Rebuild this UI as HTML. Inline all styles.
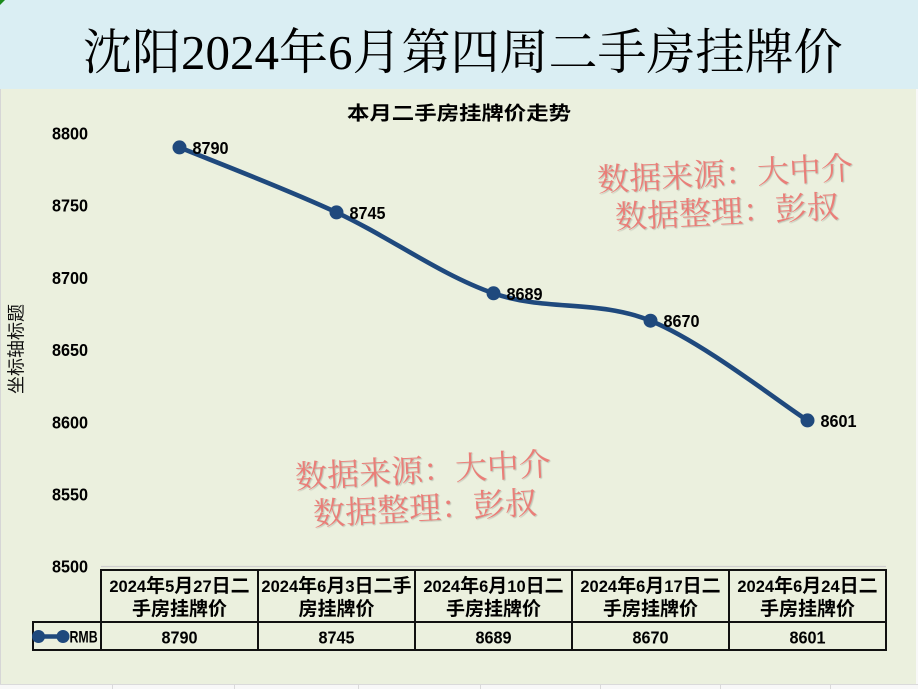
<!DOCTYPE html>
<html>
<head>
<meta charset="utf-8">
<style>
html,body{margin:0;padding:0;background:#fff;}
body{width:918px;height:689px;overflow:hidden;}
svg{display:block;}
</style>
</head>
<body>
<svg width="918" height="689" viewBox="0 0 918 689" xmlns="http://www.w3.org/2000/svg">
  <!-- backgrounds -->
  <rect x="0" y="0" width="918" height="689" fill="#f8f8f8"/>
  <rect x="0" y="0" width="918" height="89" fill="#daeef3"/>
  <polygon points="0,0 5,0 0,5" fill="#1a8a1a"/>
  <rect x="0" y="89" width="916" height="595" fill="#ebf0de"/>
  <rect x="0" y="89" width="1" height="595" fill="#d6d6d6"/>
  <!-- bottom sheet grid remnants -->
  <g stroke="#dadada" stroke-width="1">
    <line x1="112.5" y1="684" x2="112.5" y2="689"/>
    <line x1="234.5" y1="684" x2="234.5" y2="689"/>
    <line x1="358.5" y1="684" x2="358.5" y2="689"/>
    <line x1="480.5" y1="684" x2="480.5" y2="689"/>
    <line x1="600.5" y1="684" x2="600.5" y2="689"/>
    <line x1="720.5" y1="684" x2="720.5" y2="689"/>
    <line x1="830.5" y1="684" x2="830.5" y2="689"/>
    <line x1="0" y1="684.5" x2="918" y2="684.5"/>
  </g>

  <!-- main title -->
  <text x="83" y="69" font-family="'Liberation Serif','Noto Serif CJK SC',serif" font-size="49" fill="#000">沈阳2024年6月第四周二手房挂牌价</text>

  <!-- chart title -->
  <text transform="translate(459,119.5) scale(1.18,1)" x="0" y="0" text-anchor="middle" font-family="'Liberation Sans','Noto Sans CJK SC',sans-serif" font-size="19" font-weight="bold" fill="#000">本月二手房挂牌价走势</text>

  <!-- y axis title -->
  <text transform="translate(0,349) rotate(-90)" x="0" y="22.3" text-anchor="middle" font-family="'Liberation Sans','Noto Sans CJK SC',sans-serif" font-size="18" fill="#111">坐标轴标题</text>

  <!-- y axis labels -->
  <g font-family="'Liberation Sans',sans-serif" font-size="18" font-weight="bold" fill="#000" text-anchor="end">
    <text transform="translate(88,139.5) scale(0.9,1)">8800</text>
    <text transform="translate(88,211.7) scale(0.9,1)">8750</text>
    <text transform="translate(88,283.9) scale(0.9,1)">8700</text>
    <text transform="translate(88,356.1) scale(0.9,1)">8650</text>
    <text transform="translate(88,428.3) scale(0.9,1)">8600</text>
    <text transform="translate(88,500.5) scale(0.9,1)">8550</text>
    <text transform="translate(88,572.7) scale(0.9,1)">8500</text>
  </g>

  <!-- baseline gridline -->
  <line x1="101" y1="566.5" x2="886" y2="566.5" stroke="#cfcfcf" stroke-width="1.2"/>

  <!-- watermarks -->
  <g font-family="'Liberation Serif','Noto Serif CJK SC',serif" font-size="32" fill="#ea7e78" text-anchor="middle" style="text-shadow:1px 1px 1px rgba(0,0,0,0.18)">
    <g transform="translate(726,192) rotate(-2.8)">
      <text x="0" y="-7">数据来源：大中介</text>
      <text x="0" y="31">数据整理：彭叔</text>
    </g>
    <g transform="translate(424,488.5) rotate(-3)">
      <text x="0" y="-7">数据来源：大中介</text>
      <text x="0" y="31">数据整理：彭叔</text>
    </g>
  </g>

  <!-- series line -->
  <path d="M179.5,147.4 C205.7,158.2 284.2,188.1 336.5,212.4 C388.8,236.7 441.2,275.3 493.5,293.3 C545.8,311.4 598.2,299.5 650.5,320.7 C702.8,341.9 781.3,403.8 807.5,420.4" fill="none" stroke="#1f497d" stroke-width="4.6" stroke-linecap="round" stroke-linejoin="round"/>
  <g fill="#1f497d">
    <circle cx="179.5" cy="147.4" r="7"/>
    <circle cx="336.5" cy="212.4" r="7"/>
    <circle cx="493.5" cy="293.3" r="7"/>
    <circle cx="650.5" cy="320.7" r="7"/>
    <circle cx="807.5" cy="420.4" r="7"/>
  </g>

  <!-- data labels -->
  <g font-family="'Liberation Sans',sans-serif" font-size="18" font-weight="bold" fill="#000">
    <text transform="translate(192.5,153.9) scale(0.9,1)">8790</text>
    <text transform="translate(349.5,218.9) scale(0.9,1)">8745</text>
    <text transform="translate(506.5,299.8) scale(0.9,1)">8689</text>
    <text transform="translate(663.5,327.2) scale(0.9,1)">8670</text>
    <text transform="translate(820.5,426.9) scale(0.9,1)">8601</text>
  </g>

  <!-- data table -->
  <g stroke="#111" stroke-width="2" fill="none">
    <line x1="101" y1="570" x2="887" y2="570"/>
    <line x1="32" y1="622" x2="887" y2="622"/>
    <line x1="32" y1="650" x2="887" y2="650"/>
    <line x1="33" y1="622" x2="33" y2="651"/>
    <line x1="101" y1="569" x2="101" y2="651"/>
    <line x1="258" y1="569" x2="258" y2="651"/>
    <line x1="415" y1="569" x2="415" y2="651"/>
    <line x1="572" y1="569" x2="572" y2="651"/>
    <line x1="729" y1="569" x2="729" y2="651"/>
    <line x1="886" y1="569" x2="886" y2="651"/>
  </g>

  <!-- table headers -->
  <g font-family="'Liberation Sans','Noto Sans CJK SC',sans-serif" font-size="19" font-weight="bold" fill="#000" text-anchor="middle">
    <text x="179.5" y="592"><tspan font-size="16.5">2024</tspan>年<tspan font-size="16.5">5</tspan>月<tspan font-size="16.5">27</tspan>日二</text>
    <text x="179.5" y="615">手房挂牌价</text>
    <text x="336.5" y="592"><tspan font-size="16.5">2024</tspan>年<tspan font-size="16.5">6</tspan>月<tspan font-size="16.5">3</tspan>日二手</text>
    <text x="336.5" y="615">房挂牌价</text>
    <text x="493.5" y="592"><tspan font-size="16.5">2024</tspan>年<tspan font-size="16.5">6</tspan>月<tspan font-size="16.5">10</tspan>日二</text>
    <text x="493.5" y="615">手房挂牌价</text>
    <text x="650.5" y="592"><tspan font-size="16.5">2024</tspan>年<tspan font-size="16.5">6</tspan>月<tspan font-size="16.5">17</tspan>日二</text>
    <text x="650.5" y="615">手房挂牌价</text>
    <text x="807.5" y="592"><tspan font-size="16.5">2024</tspan>年<tspan font-size="16.5">6</tspan>月<tspan font-size="16.5">24</tspan>日二</text>
    <text x="807.5" y="615">手房挂牌价</text>
  </g>

  <!-- table values -->
  <g font-family="'Liberation Sans',sans-serif" font-size="18" font-weight="bold" fill="#000" text-anchor="middle">
    <text transform="translate(179.5,643.5) scale(0.9,1)">8790</text>
    <text transform="translate(336.5,643.5) scale(0.9,1)">8745</text>
    <text transform="translate(493.5,643.5) scale(0.9,1)">8689</text>
    <text transform="translate(650.5,643.5) scale(0.9,1)">8670</text>
    <text transform="translate(807.5,643.5) scale(0.9,1)">8601</text>
  </g>

  <!-- legend key -->
  <line x1="38" y1="636.5" x2="63" y2="636.5" stroke="#1f497d" stroke-width="4.6"/>
  <circle cx="38.5" cy="636.5" r="6.5" fill="#1f497d"/>
  <circle cx="63" cy="636.5" r="6.5" fill="#1f497d"/>
  <text transform="translate(69.5,642.5) scale(0.75,1)" font-family="'Liberation Sans',sans-serif" font-size="16.5" font-weight="bold" fill="#000">RMB</text>
</svg>
</body>
</html>
